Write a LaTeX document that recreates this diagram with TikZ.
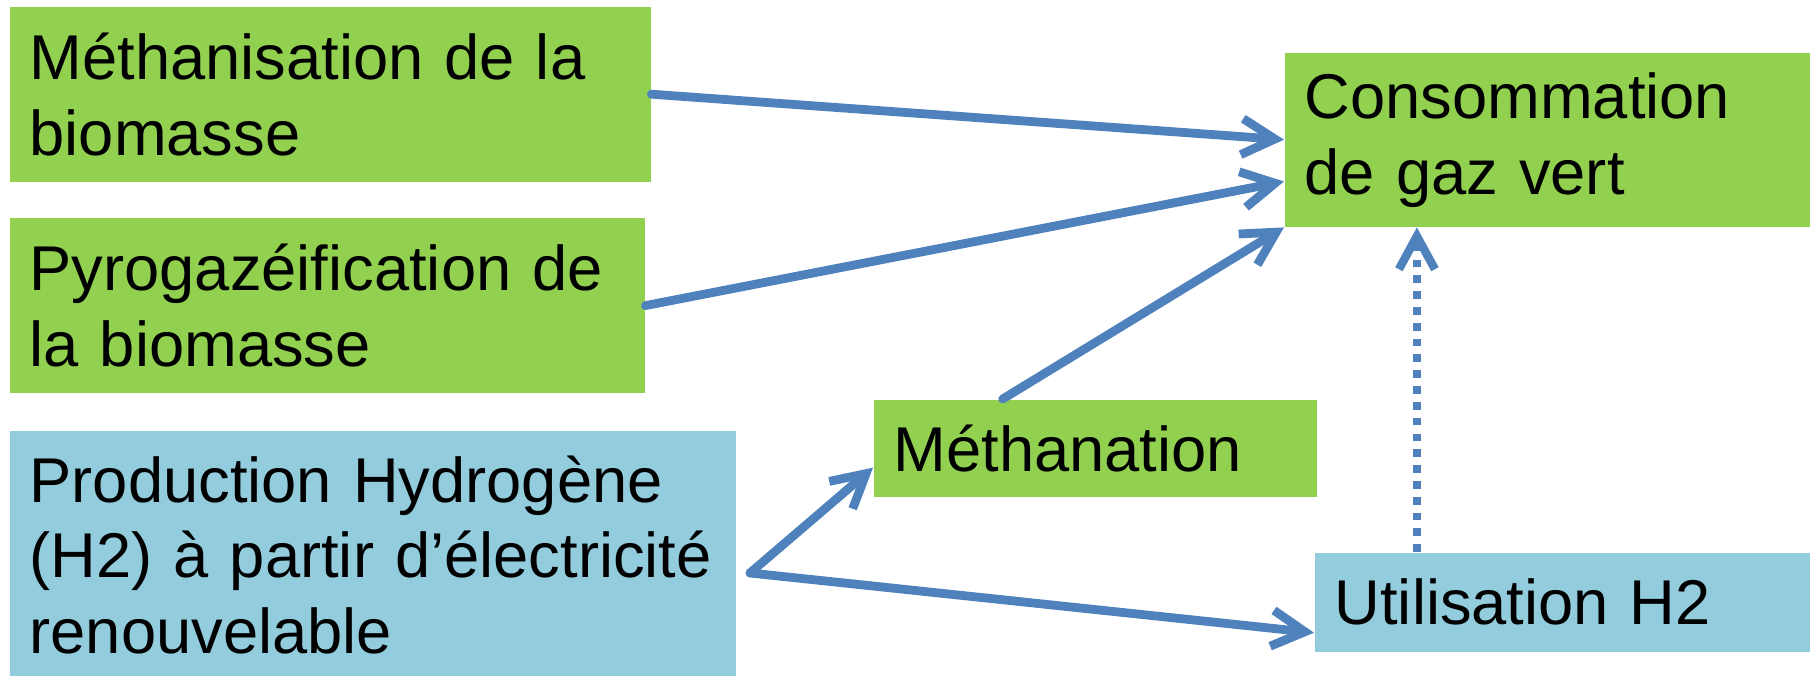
\documentclass[tikz,border=0pt]{standalone}
\usepackage{fontspec}
\setmainfont{Liberation Sans}
\usetikzlibrary{positioning,arrows.meta}
\definecolor{boxgreen}{HTML}{92D050}
\definecolor{boxblue}{HTML}{93CDDD}
\definecolor{arrowblue}{HTML}{4F81BD}

\begin{document}
\begin{tikzpicture}[%
            box/.style={anchor=north west, inner xsep=0.2cm, inner ysep=0pt, align=left, font=\fontsize{18}{21.6}\selectfont},
            greenbox/.style={box, fill=boxgreen},
            bluebox/.style={box, fill=boxblue},
            arrow/.style={-{Straight Barb[length=3.3mm,width=3.6mm]}, line width=2.5pt, arrowblue, line cap=round, line join=round},
            dotarrow/.style={arrow, line width=2.4pt, dash pattern=on 2.2pt off 2.3pt, line cap=butt}
        ]
        \useasboundingbox (0,0) rectangle (18.10,-6.76);

        % Biomass sources
        \node[greenbox, minimum width=6.41cm, minimum height=1.75cm, text width=6.01cm] (methanisation) at (0.09,-0.06) {Méthanisation de la\\biomasse};
        \node[greenbox, minimum width=6.35cm, minimum height=1.75cm, text width=5.95cm] (pyro) [below=0.35cm of methanisation.south west, anchor=north west] {Pyrogazéification de\\la biomasse};

        % Hydrogen
        \node[bluebox, minimum width=7.26cm, minimum height=2.49cm, text width=6.86cm] (hydrogen) [below=0.36cm of pyro.south west, anchor=north west] {Production Hydrogène\\(H2) à partir d’électricité\\renouvelable};
        \coordinate (split) at (7.50,-5.73);

        % Conversion and use
        \node[greenbox, minimum width=4.43cm, minimum height=0.97cm, text width=4.03cm] (methanation) at (8.73,-3.99) {Méthanation};
        \node[greenbox, minimum width=5.26cm, minimum height=1.74cm, text width=4.86cm] (conso) at (12.84,-0.52) {Consommation\\de gaz vert};
        \node[bluebox, minimum width=4.96cm, minimum height=0.99cm, text width=4.56cm] (util) at (13.14,-5.52) {Utilisation H2};

        % Flows to green gas
        \draw[arrow] (methanisation.east) -- (conso.west);
        \draw[arrow] (pyro.east) -- (conso.189);
        \draw[arrow] (methanation.152) -- (conso.south west);

        % Flows from hydrogen
        \draw[arrow] (split) -- (methanation.185);
        \draw[arrow] (split) -- (util.187);
        \draw[dotarrow] (util.161) -- (util.161 |- conso.south);

\end{tikzpicture}
\end{document}
